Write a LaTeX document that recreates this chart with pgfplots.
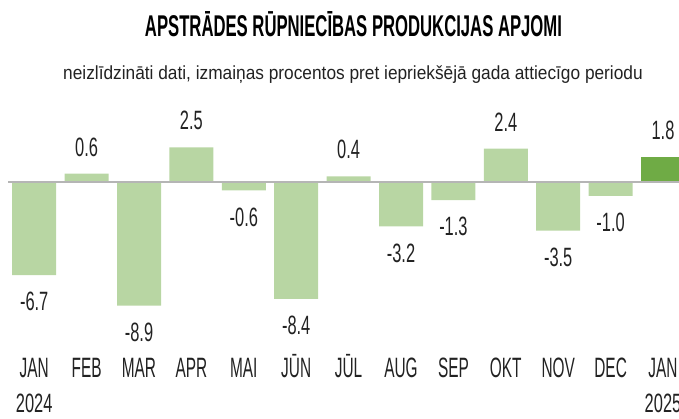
\documentclass[border=0pt]{standalone}
\usepackage{fontspec}
\usepackage{pgfplots}
\pgfplotsset{compat=1.18}
\setmainfont{Liberation Sans}
\newfontfamily\titlefam{Liberation Sans}[FakeStretch=0.556,BoldFont={* Bold}]
\newfontfamily\subfam{Liberation Sans}[FakeStretch=0.91]
\newfontfamily\labfam{Liberation Sans}[FakeStretch=0.62]
\newfontfamily\monfam{Liberation Sans}[FakeStretch=0.55]
\newcommand\titlefont{\titlefam\bfseries\fontsize{30pt}{34pt}\selectfont}
\newcommand\subfont{\subfam\fontsize{19pt}{22pt}\selectfont}
\newcommand\labfont{\labfam\fontsize{26.5pt}{30pt}\selectfont}
\newcommand\monfont{\monfam\fontsize{28pt}{32pt}\selectfont}
\definecolor{barlight}{HTML}{B8D6A3}
\definecolor{bardark}{HTML}{6FAB45}
\definecolor{txt}{HTML}{222222}
\definecolor{zeroline}{HTML}{B5B5B5}
\begin{document}
\begin{tikzpicture}
\path[use as bounding box] (0,0) rectangle (679pt,418pt);
\begin{axis}[
  at={(0,0)}, anchor=south west,
  scale only axis, width=679pt, height=418pt,
  xmin=-0.6527, xmax=12.305, ymin=-16.978, ymax=13.094,
  axis line style={draw=none},
  major tick length=0pt,
  ytick=\empty,
  xtick={0,1,2,3,4,5,6,7,8,9,10,11,12},
  xticklabels={JAN,FEB,MAR,APR,MAI,JŪN,JŪL,AUG,SEP,OKT,NOV,DEC,JAN},
  xticklabel style={anchor=base, yshift=41pt, font=\monfont, text=txt},
  ybar, bar width=44pt,
  point meta=explicit symbolic,
  nodes near coords={\pgfplotspointmeta},
  every node near coord/.append style={font=\labfont, text=txt, inner ysep=17pt},
]
% positive values
\addplot[draw=none, fill=barlight, bar shift=0pt,
  every node near coord/.append style={anchor=south}] coordinates {
  (1,0.6) [0.6]
  (3,2.5) [2.5]
  (6,0.4) [0.4]
  (9,2.4) [2.4]
};
% negative values
\addplot[draw=none, fill=barlight, bar shift=0pt,
  every node near coord/.append style={anchor=north}] coordinates {
  (0,-6.7) [-6.7]
  (2,-8.9) [-8.9]
  (4,-0.6) [-0.6]
  (5,-8.4) [-8.4]
  (7,-3.2) [-3.2]
  (8,-1.3) [-1.3]
  (10,-3.5) [-3.5]
  (11,-1.0) [-1.0]
};
% latest month
\addplot[draw=none, fill=bardark, bar shift=0pt,
  every node near coord/.append style={anchor=south}] coordinates {
  (12,1.8) [1.8]
};
\draw[zeroline, line width=2pt] (axis cs:-0.5,0) -- (axis cs:12.4,0);
\end{axis}
\node[anchor=base, font=\titlefont, text=black, inner sep=0pt] at (353.5pt,381pt) {APSTRĀDES RŪPNIECĪBAS PRODUKCIJAS APJOMI};
\node[anchor=base, font=\subfont, text=txt, inner sep=0pt] at (353pt,338pt) {neizlīdzināti dati, izmaiņas procentos pret iepriekšējā gada attiecīgo periodu};
\node[anchor=base, font=\labfont, text=txt, inner sep=0pt] at (34.2pt,5.5pt) {2024};
\begin{scope}
\clip (600pt,0pt) rectangle (679pt,32pt);
\node[anchor=base, font=\labfont, text=txt, inner sep=0pt] at (663pt,5.5pt) {2025};
\end{scope}
\end{tikzpicture}
\end{document}
